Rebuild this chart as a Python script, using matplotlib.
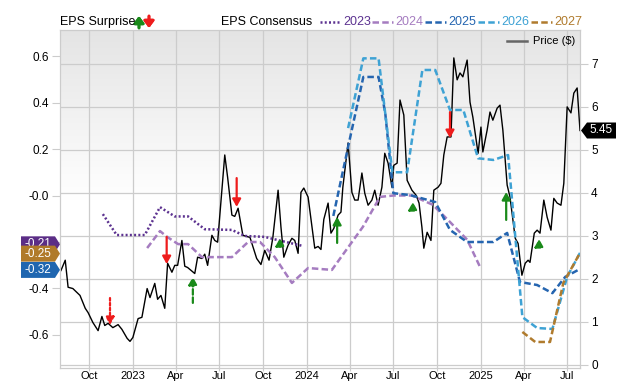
import numpy as np
import pandas as pd
import matplotlib
matplotlib.use('Agg')
import matplotlib.pyplot as plt
import matplotlib.dates as mdates
import matplotlib.transforms as mtransforms
from matplotlib.patches import Polygon
from matplotlib.lines import Line2D

plt.rcParams['font.family'] = ['Liberation Sans', 'DejaVu Sans']

# ---- share price ($), right axis
price_dates = ['2022-08-03', '2022-08-12', '2022-08-18', '2022-08-28', '2022-09-12', '2022-09-23',
               '2022-09-29', '2022-10-09', '2022-10-20', '2022-10-28', '2022-11-03', '2022-11-10',
               '2022-11-20', '2022-12-01', '2022-12-09', '2022-12-20', '2022-12-26', '2023-01-01',
               '2023-01-12', '2023-01-20', '2023-01-31', '2023-02-06', '2023-02-16', '2023-02-22',
               '2023-03-01', '2023-03-09', '2023-03-15', '2023-03-24', '2023-03-30', '2023-04-05',
               '2023-04-14', '2023-04-20', '2023-04-26', '2023-05-11', '2023-05-17', '2023-05-26',
               '2023-06-01', '2023-06-07', '2023-06-16', '2023-06-22', '2023-06-28', '2023-07-13',
               '2023-07-19', '2023-07-28', '2023-08-03', '2023-08-10', '2023-08-20', '2023-09-04',
               '2023-09-18', '2023-09-27', '2023-10-05', '2023-10-14', '2023-10-22', '2023-11-02',
               '2023-11-08', '2023-11-14', '2023-11-23', '2023-12-01', '2023-12-07', '2023-12-14',
               '2023-12-20', '2023-12-26', '2024-01-04', '2024-01-18', '2024-01-25', '2024-01-31',
               '2024-02-06', '2024-02-15', '2024-02-21', '2024-02-27', '2024-03-07', '2024-03-13',
               '2024-03-17', '2024-03-28', '2024-04-05', '2024-04-11', '2024-04-18', '2024-04-26',
               '2024-05-02', '2024-05-09', '2024-05-17', '2024-05-23', '2024-05-30', '2024-06-07',
               '2024-06-13', '2024-06-20', '2024-06-28', '2024-07-02', '2024-07-09', '2024-07-15',
               '2024-07-23', '2024-07-30', '2024-08-09', '2024-08-18', '2024-08-24', '2024-08-30',
               '2024-09-03', '2024-09-10', '2024-09-18', '2024-09-24', '2024-10-03', '2024-10-09',
               '2024-10-15', '2024-10-22', '2024-10-30', '2024-11-05', '2024-11-12', '2024-11-18',
               '2024-11-24', '2024-12-03', '2024-12-09', '2024-12-15', '2024-12-26', '2025-01-01',
               '2025-01-05', '2025-01-14', '2025-01-20', '2025-01-26', '2025-02-04', '2025-02-10',
               '2025-02-16', '2025-02-25', '2025-03-03', '2025-03-14', '2025-03-20', '2025-03-28',
               '2025-04-04', '2025-04-10', '2025-04-14', '2025-04-23', '2025-04-29', '2025-05-05',
               '2025-05-13', '2025-05-20', '2025-05-28', '2025-06-03', '2025-06-10', '2025-06-18',
               '2025-06-24', '2025-07-01', '2025-07-09', '2025-07-15', '2025-07-22', '2025-07-28']
price_vals = [2.19, 2.43, 1.80, 1.77, 1.61, 1.31,
              1.21, 0.98, 0.79, 1.12, 0.91, 0.96,
              0.86, 0.93, 0.82, 0.61, 0.54, 0.63,
              1.07, 1.10, 1.77, 1.56, 1.89, 1.52,
              1.61, 1.31, 2.36, 2.15, 2.31, 2.31,
              2.89, 2.29, 2.26, 2.12, 2.50, 2.47,
              2.57, 2.31, 3.01, 2.89, 2.85, 4.88,
              4.36, 3.48, 3.45, 3.64, 3.01, 2.96,
              2.47, 2.33, 2.66, 2.43, 2.96, 4.06,
              3.20, 2.50, 2.78, 2.94, 2.89, 2.59,
              4.01, 4.11, 3.90, 2.71, 2.75, 2.68,
              3.38, 3.76, 3.06, 3.17, 3.48, 3.55,
              4.13, 5.16, 4.01, 3.83, 3.83, 4.46,
              3.99, 3.71, 3.83, 4.06, 3.71, 4.13,
              4.92, 4.69, 4.13, 4.64, 4.69, 6.16,
              5.81, 4.29, 4.06, 3.94, 3.76, 3.20,
              2.71, 3.08, 2.89, 4.06, 4.13, 4.22,
              4.88, 5.30, 5.30, 7.14, 6.63, 6.79,
              6.70, 7.09, 6.11, 5.76, 4.92, 5.53,
              4.95, 5.46, 5.88, 5.69, 5.97, 6.04,
              5.46, 4.18, 3.90, 2.94, 2.82, 2.08,
              2.36, 2.43, 2.38, 3.06, 3.13, 3.06,
              3.83, 3.43, 3.13, 3.87, 3.76, 3.71,
              4.22, 6.00, 5.86, 6.32, 6.44, 5.45]

# ---- EPS consensus by fiscal year, left axis
c2023_dates = ['2022-10-30', '2022-11-28', '2023-01-26', '2023-02-27', '2023-03-30', '2023-04-27',
               '2023-06-01', '2023-07-28', '2023-08-24', '2023-10-05', '2023-11-10', '2023-12-24']
c2023_vals = [-0.08, -0.17, -0.17, -0.05, -0.09, -0.09, -0.145, -0.148, -0.174, -0.178, -0.196, -0.217]

c2024_dates = ['2023-01-31', '2023-02-27', '2023-03-14', '2023-04-06', '2023-04-27', '2023-05-26',
               '2023-07-28', '2023-08-31', '2023-09-25', '2023-10-26', '2023-12-01', '2024-01-04',
               '2024-02-23', '2024-03-21', '2024-04-28', '2024-06-03', '2024-07-01', '2024-08-09',
               '2024-09-22', '2024-10-28', '2024-12-03', '2024-12-30']
c2024_vals = [-0.226, -0.153, -0.178, -0.209, -0.209, -0.265, -0.265, -0.20, -0.20, -0.265, -0.376,
              -0.312, -0.32, -0.243, -0.135, -0.006, 0.0, 0.0, -0.04, -0.114, -0.19, -0.307]

c2025_dates = ['2024-02-26', '2024-03-28', '2024-04-29', '2024-05-31', '2024-06-14', '2024-07-01',
               '2024-08-05', '2024-09-27', '2024-10-28', '2024-12-03', '2025-01-27', '2025-02-25',
               '2025-03-24', '2025-04-29', '2025-05-31', '2025-06-27', '2025-07-28']
c2025_vals = [-0.088, 0.209, 0.51, 0.51, 0.355, 0.01, 0.002, -0.028, -0.148, -0.20, -0.20, -0.161,
              -0.372, -0.385, -0.42, -0.35, -0.316]

c2026_dates = ['2024-03-28', '2024-04-29', '2024-05-31', '2024-06-29', '2024-07-30', '2024-08-31',
               '2024-09-27', '2024-10-28', '2024-11-25', '2024-12-26', '2025-01-27', '2025-02-27',
               '2025-03-29', '2025-04-29', '2025-05-31', '2025-07-01', '2025-07-28']
c2026_vals = [0.29, 0.59, 0.59, 0.10, 0.10, 0.54, 0.54, 0.368, 0.368, 0.16, 0.153, 0.174,
              -0.523, -0.57, -0.574, -0.35, -0.247]

c2027_dates = ['2025-03-29', '2025-04-25', '2025-05-26', '2025-06-23', '2025-07-28']
c2027_vals = [-0.587, -0.63, -0.63, -0.376, -0.247]

# ---- EPS surprise arrows (from -> to, left axis)
surp_dates = ['2022-11-14', '2023-03-13', '2023-05-07', '2023-08-07', '2023-11-06',
              '2024-03-05', '2024-08-11', '2024-10-28', '2025-02-23', '2025-05-03']
surp_from = [-0.441, -0.178, -0.462, 0.075, -0.22, -0.204, -0.062, 0.359, -0.105, -0.22]
surp_to = [-0.557, -0.295, -0.35, -0.049, -0.183, -0.092, -0.028, 0.247, 0.015, -0.187]
surp_style = ['dotted', 'solid', 'dashed', 'solid', 'dashed', 'solid', 'dashed', 'solid', 'solid', 'dashed']

tag_values = [-0.21, -0.32, -0.25]
tag_colors = ['#5b2d86', '#1f66b0', '#b07a2a']
last_price = price_vals[-1]

years = ['2023', '2024', '2025', '2026', '2027']
cons_dates = [c2023_dates, c2024_dates, c2025_dates, c2026_dates, c2027_dates]
cons_vals = [c2023_vals, c2024_vals, c2025_vals, c2026_vals, c2027_vals]
cons_colors = ['#5c3290', '#a57cc0', '#2565b0', '#3ea2d4', '#b07b2d']
cons_ls = [(0, (0.8, 0.9)), (0, (2.6, 1.3)), (0, (2.6, 1.3)), (0, (2.6, 1.3)), (0, (2.6, 1.3))]

UP = '#1a8a1a'
DOWN = '#ee1c1c'
GRID = '#cccccc'

W, H = 640, 382
def fx(x):
    return x / W
def fy(y):
    return 1 - y / H

fig = plt.figure(figsize=(6.4, 3.82), dpi=100)
rect = [fx(60), fy(368), 520 / W, 338 / H]

# background gradient
bg = fig.add_axes(rect, zorder=-1)
t = np.linspace(0, 1, 200)
shade = np.clip(0.895 + 0.105 * t / 0.5, 0, 1)
img = np.repeat(shade[:, None], 3, axis=1)[:, None, :]
bg.imshow(img, aspect='auto', extent=[0, 1, 0, 1])
bg.axis('off')

ax = fig.add_axes(rect)
ax.patch.set_visible(False)
pd_price = pd.to_datetime(price_dates)
ax.plot(pd_price, price_vals, color='black', lw=1.0, zorder=3)

ax_eps = ax.twinx()
ax.yaxis.tick_right()
ax.yaxis.set_label_position('right')
ax_eps.yaxis.tick_left()
ax_eps.yaxis.set_label_position('left')

for d, v, c, ls in zip(cons_dates, cons_vals, cons_colors, cons_ls):
    ax_eps.plot(pd.to_datetime(d), v, color=c, lw=1.8, linestyle=ls)

for d, a, b, st in zip(surp_dates, surp_from, surp_to, surp_style):
    xnum = mdates.date2num(pd.Timestamp(d))
    col = UP if b > a else DOWN
    ls = {'solid': '-', 'dashed': (0, (2.5, 1.2)), 'dotted': (0, (1.2, 1.0))}[st]
    ax_eps.annotate('', xy=(xnum, b), xytext=(xnum, a),
                    arrowprops=dict(arrowstyle='-|>,head_width=0.25,head_length=0.45',
                                    color=col, lw=1.6, linestyle=ls,
                                    shrinkA=0, shrinkB=0))

ax.set_xlim(pd.Timestamp('2022-08-01'), pd_price[-1])
ax.set_ylim(-0.08, 7.79)
ax_eps.set_ylim(-0.742, 0.712)

ax.set_yticks(range(0, 8))
eps_ticks = [-0.6, -0.4, -0.2, 0.0, 0.2, 0.4, 0.6]
ax_eps.set_yticks(eps_ticks)
ax_eps.set_yticklabels(['-0.6', '-0.4', '-0.2', '-0.0', '0.2', '0.4', '0.6'])

ax.xaxis.set_major_locator(mdates.MonthLocator(bymonth=[1, 4, 7, 10]))
def xfmt(x, pos):
    d = mdates.num2date(x)
    return str(d.year) if d.month == 1 else d.strftime('%b')
ax.xaxis.set_major_formatter(plt.FuncFormatter(xfmt))

ax.grid(True, color=GRID, lw=0.9)
ax.set_axisbelow(True)
for a in (ax, ax_eps):
    for s in a.spines.values():
        s.set_color(GRID)
ax.tick_params(axis='y', length=6, color=GRID, labelsize=8.5, pad=2)
ax_eps.tick_params(axis='y', length=6, color=GRID, labelsize=8.5, pad=2)
ax.tick_params(axis='x', length=2, color=GRID, labelsize=8, pad=0.5)

# value tags on the left axis
blend_eps = mtransforms.blended_transform_factory(ax_eps.transAxes, ax_eps.transData)
for i, (v, c) in enumerate(zip(tag_values, tag_colors)):
    yc = blend_eps.transform((0, v))[1]
    pts = [(21, yc - 8), (55, yc - 8), (60, yc), (55, yc + 8), (21, yc + 8)]
    fig.add_artist(Polygon([(px / W, py / H) for px, py in pts], closed=True,
                           transform=fig.transFigure, fc=c, ec='none', zorder=10 + 2 * i))
    fig.text(fx(38), yc / H, '%.2f' % v, color='white', fontsize=8.5,
             ha='center', va='center', zorder=11 + 2 * i)

# last price tag on the right axis
blend_px = mtransforms.blended_transform_factory(ax.transAxes, ax.transData)
yc = blend_px.transform((1, last_price))[1]
pts = [(581, yc), (587, yc + 8), (616, yc + 8), (616, yc - 8), (587, yc - 8)]
fig.add_artist(Polygon([(px / W, py / H) for px, py in pts], closed=True,
                       transform=fig.transFigure, fc='black', ec='none'))
fig.text(fx(601), yc / H, '%.2f' % last_price, color='white', fontsize=8.5,
         ha='center', va='center')

# header legend
fig.text(fx(60), fy(22), 'EPS Surprise', fontsize=9, va='center', ha='left')
fig.add_artist(plt.annotate('', xy=(fx(139), fy(16)), xytext=(fx(139), fy(28)),
                            xycoords='figure fraction',
                            arrowprops=dict(arrowstyle='-|>,head_width=0.3,head_length=0.4',
                                            color=UP, lw=2, shrinkA=0, shrinkB=0)))
fig.add_artist(plt.annotate('', xy=(fx(149), fy(28)), xytext=(fx(149), fy(16)),
                            xycoords='figure fraction',
                            arrowprops=dict(arrowstyle='-|>,head_width=0.3,head_length=0.4',
                                            color=DOWN, lw=2, shrinkA=0, shrinkB=0)))
fig.text(fx(221), fy(22), 'EPS Consensus', fontsize=9, va='center', ha='left')
lx = [320, 372, 425, 478, 531]
for x0, yr, c, ls in zip(lx, years, cons_colors, cons_ls):
    fig.add_artist(Line2D([fx(x0), fx(x0 + 21)], [fy(22), fy(22)], transform=fig.transFigure,
                          color=c, lw=1.8, linestyle=ls))
    fig.text(fx(x0 + 23), fy(22), yr, fontsize=9, color=c, va='center', ha='left')

fig.add_artist(Line2D([fx(507), fx(527)], [fy(41), fy(41)], transform=fig.transFigure,
                      color='#666666', lw=1.8))
fig.text(fx(533), fy(41), 'Price ($)', fontsize=8, va='center', ha='left')

fig.savefig('out.png', dpi=100)
